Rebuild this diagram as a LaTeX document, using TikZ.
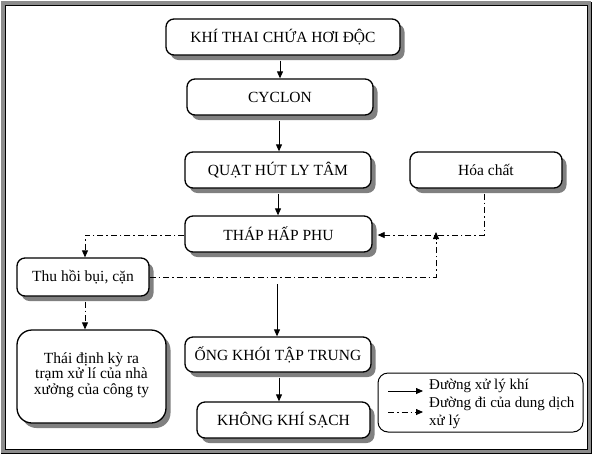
\documentclass[tikz,border=0pt]{standalone}
\usepackage{fontspec}
\setmainfont{Liberation Serif}
\usetikzlibrary{arrows.meta,shadows}

\begin{document}
\begin{tikzpicture}[x=1pt,y=-1pt,
    box/.style={draw, line width=1.3pt, rounded corners=8pt, fill=white,
        inner sep=0pt, align=center, font=\fontsize{15.5}{15.5}\selectfont,
        drop shadow={shadow xshift=4.5pt, shadow yshift=-5pt, fill=black!50, opacity=1}},
    flow/.style={line width=0.9pt, -{Triangle[length=7pt,width=6pt]}},
    chem/.style={line width=0.8pt, dash pattern=on 6pt off 3pt on 1.5pt off 3pt,
        -{Triangle[length=7pt,width=6pt]}}]
        \useasboundingbox (0,0) rectangle (594,456);
        % frame
        \draw [black!45, line width=4pt] (3,3) rectangle (589,451);
        \draw [line width=1pt] (5,5) rectangle (587,449);
        \draw [line width=1pt] (591,2) -- (591,453) -- (1,453);
        % main flow
        \node [box, minimum width=234pt, minimum height=36pt] (khi) at (283,37) {KHÍ THAI CHỨA HƠI ĐỘC};
        \node [box, minimum width=186pt, minimum height=36pt] (cyclon) at (280,97) {CYCLON};
        \node [box, minimum width=186pt, minimum height=36pt] (quat) at (278,170) {QUẠT HÚT LY TÂM};
        \node [box, minimum width=152pt, minimum height=36pt] (hoachat) at (486,170) {Hóa chất};
        \node [box, minimum width=187pt, minimum height=36pt] (thap) at (278.5,234) {THÁP HẤP PHU};
        \node [box, minimum width=132pt, minimum height=38pt] (thuhoi) at (83,277) {Thu hồi bụi, cặn};
        \node [box, minimum width=149pt, minimum height=93pt, rounded corners=15pt,
            text depth=6pt] (thai) at (91.5,376.5) {Thái định kỳ ra\\trạm xử lí của nhà\\xưởng của công ty};
        \node [box, minimum width=186pt, minimum height=35pt] (ong) at (278,354.5) {ỐNG KHÓI TẬP TRUNG};
        \node [box, minimum width=173pt, minimum height=36pt] (khong) at (283.5,420) {KHÔNG KHÍ SẠCH};
        % arrows of the gas
        \draw [flow, shorten <=5pt] (khi.south -| 280,0) -- (cyclon.north -| 280,0);
        \draw [flow, shorten <=5pt] (cyclon.south -| 279,0) -- (quat.north -| 279,0);
        \draw [flow, shorten <=5pt] (quat.south -| 278,0) -- (thap.north -| 278,0);
        \coordinate (gap) at (277,284);
        \draw [flow] (gap) -- (ong.north -| gap);
        \draw [flow, shorten <=5pt] (ong.south -| 279,0) -- (khong.north -| 279,0);
        % arrows of the solution
        \coordinate (left) at (85,235);
        \coordinate (junc) at (436,235);
        \coordinate (drop) at (484,235);
        \draw [chem] (thap.west |- left) -- (left) -- (thuhoi.north -| left);
        \draw [chem, shorten <=5pt] (thuhoi.south -| left) -- (thai.north -| left);
        \draw [chem] (thuhoi.east) -- (thuhoi.east -| junc) -- ([yshift=3pt]junc);
        \draw [chem, shorten <=5pt, shorten >=5pt] (hoachat.south -| drop) -- (drop) -- (thap.east |- drop);
        % legend
        \node [draw, line width=1pt, rounded corners=10pt, minimum width=205pt,
            minimum height=59pt] (legend) at (480.5,402.5) {};
        \coordinate (lgA) at (388,391);
        \coordinate (lgB) at (388,412);
        \draw [flow, line width=0.8pt] (lgA) -- ++(35,0);
        \draw [chem] (lgB) -- ++(35,0);
        \node [anchor=north west, align=left, inner sep=0pt,
            font=\fontsize{15}{18}\selectfont] (lgtext) at (429,379)
            {Đường xử lý khí\\Đường đi của dung dịch\\xử lý};
\end{tikzpicture}
\end{document}
